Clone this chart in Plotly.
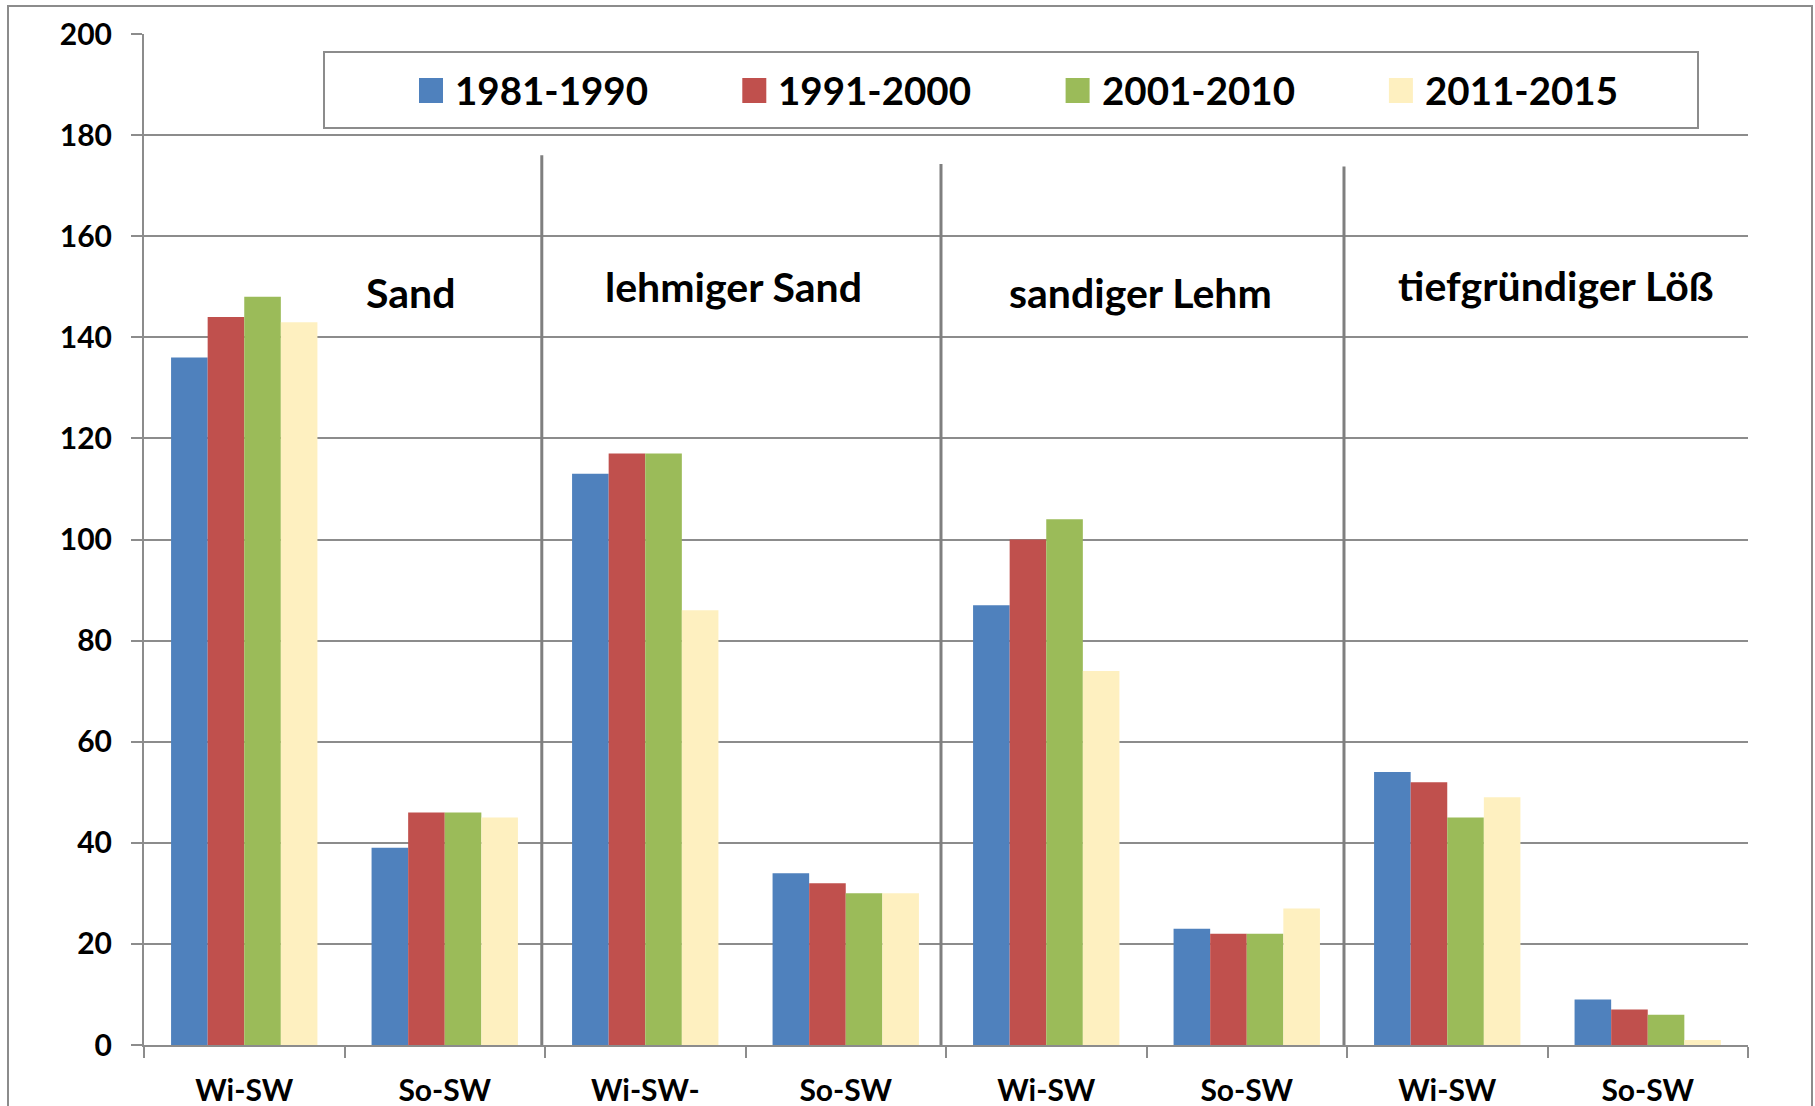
import plotly.graph_objects as go

# Kategorien (x-Achse) und Bodenarten
kategorien = ["Wi-SW", "So-SW", "Wi-SW-", "So-SW", "Wi-SW", "So-SW", "Wi-SW", "So-SW"]
boeden = ["Sand", "lehmiger Sand", "sandiger Lehm", "tiefgründiger Löß"]
zeitraeume = ["1981-1990", "1991-2000", "2001-2010", "2011-2015"]

# Werte je Zeitraum (Reihenfolge wie kategorien)
w_1981_1990 = [136, 39, 113, 34, 87, 23, 54, 9]
w_1991_2000 = [144, 46, 117, 32, 100, 22, 52, 7]
w_2001_2010 = [148, 46, 117, 30, 104, 22, 45, 6]
w_2011_2015 = [143, 45, 86, 30, 74, 27, 49, 1]

farben = ["#4F81BD", "#C0504D", "#9BBB59", "#FEF0C0"]
reihen = [w_1981_1990, w_1991_2000, w_2001_2010, w_2011_2015]

W, H = 1815, 1106
ML, MR, MT, MB = 144, 67, 34, 61
PW, PH = W - ML - MR, H - MT - MB
GRID = "#8C8C8C"
FONT = "Lato, 'Open Sans', sans-serif"


def px_x(px):
    return (px - ML) / PW


def px_y(py):
    return (H - MB - py) / PH


x_idx = list(range(len(kategorien)))

fig = go.Figure()
for name, vals, col in zip(zeitraeume, reihen, farben):
    fig.add_trace(go.Bar(
        x=x_idx, y=vals, name=name,
        marker=dict(color=col, line=dict(width=0)),
        showlegend=False,
    ))

# Trennlinien zwischen den Bodenarten
for xpos, ytop in [(1.484, 176), (3.475, 174.3), (5.485, 173.8)]:
    fig.add_shape(type="line", xref="x", yref="y", x0=xpos, x1=xpos,
                  y0=-1.3, y1=ytop, line=dict(color="#7F7F7F", width=3))

# Beschriftung der Bodenarten
for txt, xpos, ypos in zip(boeden, [0.83, 2.44, 4.47, 6.54], [148.8, 150, 148.9, 150.3]):
    fig.add_annotation(x=xpos, y=ypos, xref="x", yref="y", text=txt,
                       showarrow=False, font=dict(size=41, color="black",
                                                  family=FONT, weight="bold"))

# Legende (manuell, wie im Original mit großen Quadraten)
fig.add_shape(type="rect", xref="paper", yref="paper",
              x0=px_x(324), x1=px_x(1698), y0=px_y(128), y1=px_y(52),
              line=dict(color=GRID, width=2), fillcolor="white", layer="above")
for i, (name, col) in enumerate(zip(zeitraeume, farben)):
    sx = 419 + i * 323.3
    fig.add_shape(type="rect", xref="paper", yref="paper",
                  x0=px_x(sx), x1=px_x(sx + 24), y0=px_y(103), y1=px_y(78),
                  line=dict(width=0), fillcolor=col, layer="above")
    fig.add_annotation(x=px_x(sx + 34), y=px_y(90), xref="paper", yref="paper",
                       text=name, showarrow=False, xanchor="left", yanchor="middle",
                       font=dict(size=38.5, color="black", family=FONT, weight="bold"))

# äußerer Rahmen
fig.add_shape(type="rect", xref="paper", yref="paper",
              x0=px_x(8), x1=px_x(1812), y0=px_y(1120), y1=px_y(6),
              line=dict(color=GRID, width=2), layer="below")

fig.update_layout(
    width=W, height=H,
    margin=dict(l=ML, r=MR, t=MT, b=MB),
    plot_bgcolor="white", paper_bgcolor="white",
    barmode="group", bargap=0.27, bargroupgap=0,
    font=dict(family=FONT, color="black", weight="bold"),
    showlegend=False,
    xaxis=dict(
        range=[-0.5, 7.5], tickvals=x_idx, ticktext=kategorien,
        ticks="", showgrid=False, zeroline=False, automargin=False,
        showline=True, linecolor=GRID, linewidth=2,
        tickfont=dict(size=30, family=FONT, weight="bold"),
        ticklabelstandoff=18,
        minor=dict(ticks="outside", tick0=-0.5, dtick=1, ticklen=11,
                   tickcolor=GRID, tickwidth=2, showgrid=False),
    ),
    yaxis=dict(
        range=[0, 200], dtick=20, showgrid=True, gridcolor=GRID, gridwidth=2,
        zeroline=False, showline=True, linecolor=GRID, linewidth=2, automargin=False,
        ticks="outside", ticklen=11, tickcolor=GRID, tickwidth=2,
        tickfont=dict(size=30, family=FONT, weight="bold"),
        ticklabelstandoff=13,
    ),
)

fig.write_html("out.html", config={"displayModeBar": False},
               post_script="document.body.style.margin='0';document.body.style.overflow='hidden';")
